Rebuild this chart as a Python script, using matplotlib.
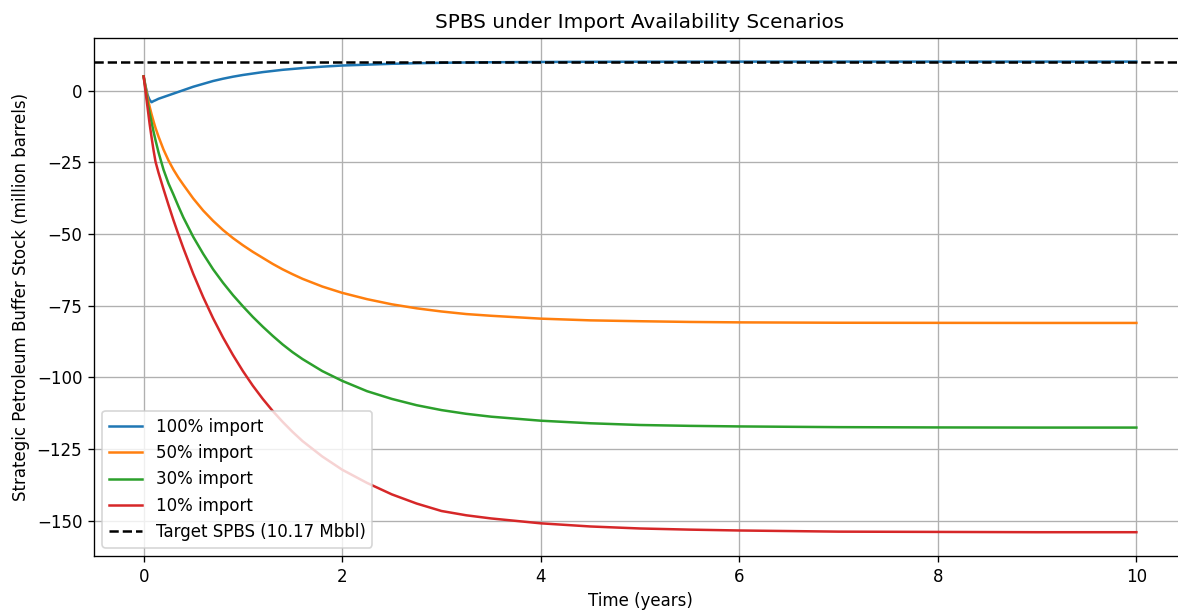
import matplotlib
matplotlib.use("Agg")
import matplotlib.pyplot as plt

# Time axis (years)
t = [0, 0.02, 0.04, 0.06, 0.08, 0.1, 0.12, 0.15, 0.2, 0.25, 0.3, 0.35, 0.4, 0.5, 0.6, 0.7,
     0.8, 0.9, 1.0, 1.1, 1.2, 1.3, 1.4, 1.5, 1.6, 1.8, 2.0, 2.25, 2.5, 2.75, 3.0, 3.25, 3.5,
     4.0, 4.5, 5.0, 5.5, 6.0, 7.0, 8.0, 9.0, 10.0]

# SPBS (million barrels) per import scenario
spbs_100 = [5, 1.5, -1.5, -3.2, -4.0, -3.6, -3.3, -2.8, -2.2, -1.6, -1.0, -0.4, 0.2, 1.4, 2.4, 3.4,
            4.2, 4.9, 5.5, 6.0, 6.5, 6.9, 7.3, 7.6, 7.9, 8.4, 8.8, 9.1, 9.4, 9.6, 9.75, 9.86, 9.94,
            10.04, 10.1, 10.13, 10.15, 10.16, 10.17, 10.17, 10.17, 10.17]
spbs_50 = [5, 1.2, -2.5, -5.5, -8.2, -10.7, -13.0, -16.0, -20.5, -24.3, -27.5, -30.3, -32.8, -37.6, -41.8, -45.4,
           -48.6, -51.4, -53.9, -56.2, -58.3, -60.4, -62.3, -64.0, -65.6, -68.3, -70.5, -72.7, -74.5, -75.9, -77.0, -77.9, -78.5,
           -79.5, -80.1, -80.4, -80.65, -80.8, -80.93, -80.97, -81.0, -81.0]
spbs_30 = [5, 0.5, -4.2, -7.7, -11.0, -14.3, -17.3, -21.5, -27.5, -32.3, -36.2, -40.3, -44.2, -51.0, -56.9, -62.3,
           -67.0, -71.3, -75.2, -78.9, -82.3, -85.5, -88.5, -91.2, -93.6, -97.8, -101.2, -104.8, -107.5, -109.7, -111.4, -112.7, -113.7,
           -115.1, -116.0, -116.6, -116.9, -117.1, -117.35, -117.45, -117.5, -117.5]
spbs_10 = [5, -0.5, -6.0, -11.5, -16.3, -20.8, -24.8, -28.6, -34.3, -39.8, -45.1, -50.1, -54.9, -63.9, -72.0, -79.4,
           -86.1, -92.2, -97.8, -102.9, -107.5, -111.7, -115.5, -119.0, -122.2, -127.6, -132.2, -136.8, -140.8, -144.0, -146.6, -148.1, -149.2,
           -150.9, -152.0, -152.7, -153.1, -153.4, -153.8, -153.9, -154.0, -154.0]

labels = ["100% import", "50% import", "30% import", "10% import"]
target = 10.17
target_label = "Target SPBS (10.17 Mbbl)"

fig = plt.figure(figsize=(1178 / 120, 611 / 120), dpi=120)
ax = fig.add_axes([94 / 1178, (611 - 556) / 611, (1186 - 94) / 1178, (556 - 38) / 611])

for series, lab in zip([spbs_100, spbs_50, spbs_30, spbs_10], labels):
    ax.plot(t, series, label=lab)
ax.axhline(target, color="black", linestyle="--", label=target_label)

ax.set_xlim(-0.5, 10.5)
ax.set_ylim(-162.3, 18.4)
ax.set_xticks([0, 2, 4, 6, 8, 10])
ax.set_yticks([-150, -125, -100, -75, -50, -25, 0])
ax.set_title("SPBS under Import Availability Scenarios")
ax.set_xlabel("Time (years)")
ax.set_ylabel("Strategic Petroleum Buffer Stock (million barrels)")
ax.grid(True)
ax.legend(loc="lower left")

fig.savefig("out.png", dpi=120)
